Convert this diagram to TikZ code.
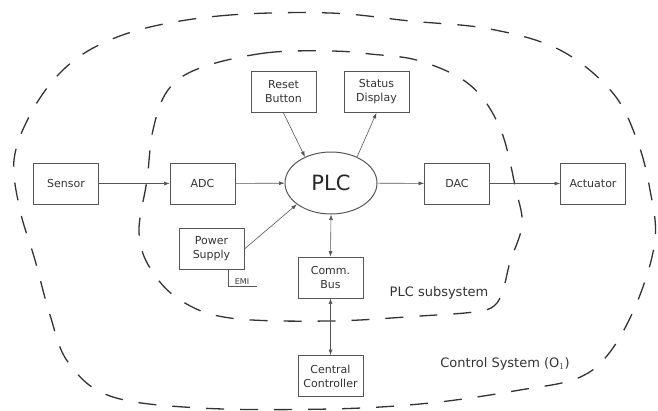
\documentclass[tikz,border=0pt]{standalone}
\usepackage{fontspec}
\setmainfont{DejaVu Sans}
\usetikzlibrary{arrows.meta,shapes.geometric}
\definecolor{boxgray}{HTML}{555555}
\definecolor{txtgray}{HTML}{333333}
\begin{document}
\begin{tikzpicture}[x=1pt,y=-1pt,
  blk/.style={rectangle, draw=boxgray, line width=0.8pt, minimum width=65pt, minimum height=41pt, align=center, inner sep=1pt, text=txtgray, font=\fontsize{11}{14}\selectfont},
  ctrl/.style={ellipse, draw=boxgray, line width=1pt, minimum width=92pt, minimum height=62pt, inner sep=0pt, text=black!85, font=\fontsize{21}{24}\selectfont},
  sig/.style={draw=boxgray, line width=0.6pt, -{Latex[length=5.5pt,width=4pt]}},
  bus/.style={draw=boxgray, line width=0.6pt, {Latex[length=5.5pt,width=4pt]}-{Latex[length=5.5pt,width=4pt]}},
  zone/.style={draw=black!80, line width=1.3pt, dash pattern=on 18pt off 16pt},
  zonelabel/.style={text=txtgray, font=\fontsize{13}{15}\selectfont}]
\useasboundingbox (0,0) rectangle (658,410);
\draw [zone] plot [smooth cycle, tension=0.6] coordinates {(330,13) (230,15) (150,27) (95,47) (58,75) (30,115) (14,160) (20,210) (35,260) (50,315) (68,362) (110,396) (200,408) (330,409) (430,403) (520,390) (578,378) (610,352) (638,300) (655,240) (650,190) (637,140) (612,92) (560,50) (490,29) (410,21)};
\draw [zone] plot [smooth cycle, tension=0.6] coordinates {(330,51) (265,53) (200,68) (168,90) (153,130) (147,180) (139,232) (150,268) (180,300) (230,318) (330,321) (420,316) (474,312) (494,306) (503,290) (510,262) (522,225) (516,190) (500,128) (470,85) (420,61) (370,54)};
\node [blk] (sensor) at (66,183.5) {Sensor};
\node [blk] (adc) at (202.5,183.5) {ADC};
\node [ctrl] (plc) at (331,183) {PLC};
\node [blk] (dac) at (457,183.5) {DAC};
\node [blk] (actuator) at (593,183.5) {Actuator};
\node [blk] (reset) at (283.5,92) {Reset\\Button};
\node [blk] (status) at (376.5,92) {Status\\Display};
\node [blk] (psu) at (211.5,249) {Power\\Supply};
\node [blk] (commbus) at (330.5,277.5) {Comm.\\Bus};
\node [blk] (central) at (330.5,376) {Central\\Controller};
\coordinate (emicorner) at (228,286);
\coordinate (emiend) at (257,286);
\node [anchor=south, inner sep=1.5pt, text=txtgray, font=\fontsize{8}{9}\selectfont] (emi) at (242,286) {EMI};
\node [zonelabel] (plcsub) at (439,293) {PLC subsystem};
\node [zonelabel] (ctrlsys) at (505,364) {Control System (O$_1$)};
\draw [sig] (sensor) -- (adc);
\draw [sig] (adc) -- (plc);
\draw [sig] (plc) -- (dac);
\draw [sig] (dac) -- (actuator);
\draw [sig] (reset.south) -- (plc.135);
\draw [sig] (plc.45) -- (status.south);
\draw [sig] (psu.east) -- (plc.212);
\draw [bus] (plc.south) -- (commbus.north);
\draw [bus] (commbus.south) -- (central.north);
\draw [draw=boxgray, line width=0.8pt] (psu.south -| emicorner) -- (emicorner) -- (emiend);
\end{tikzpicture}
\end{document}
